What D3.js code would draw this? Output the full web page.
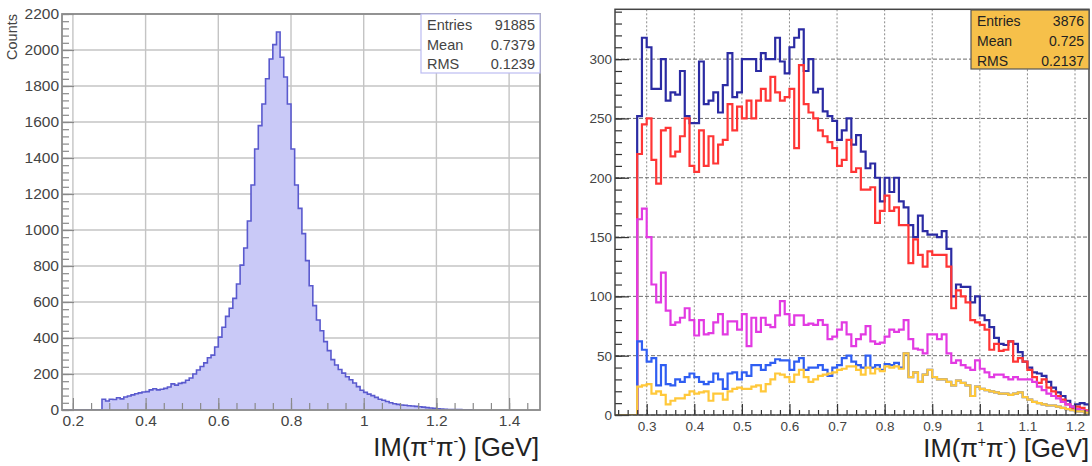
<!DOCTYPE html>
<html><head><meta charset="utf-8">
<script src="https://cdn.jsdelivr.net/npm/d3@7"></script>
<style>body{margin:0;background:#fff}svg{display:block;font-family:"Liberation Sans",Arial,sans-serif}</style>
</head><body><svg id="c" width="1092" height="466"></svg>
<script>
// ---------- data: left panel ----------
const leftBinStart = 0.28, leftBinWidth = 0.01;
const leftCounts = [
  60,50,60,58,68,62,72,78,84,90,
  95,100,102,112,118,112,115,120,128,145,
  138,148,152,165,178,200,222,242,262,290,
  305,350,405,460,520,565,620,700,805,900,
  1050,1250,1450,1580,1700,1840,1950,2030,2100,1960,
  1850,1700,1450,1250,1120,980,830,690,580,500,
  440,380,330,280,250,225,205,185,168,150,
  130,110,98,88,80,70,60,54,47,40,
  35,31,28,26,24,22,20,18,16,13,
  11,9,7,5,4,3,3,2,2,1,1,1
];
const leftXTicks = [0.2,0.4,0.6,0.8,1,1.2,1.4];
const leftYTicks = [0,200,400,600,800,1000,1200,1400,1600,1800,2000,2200];
const leftStats = [["Entries","91885"],["Mean","0.7379"],["RMS","0.1239"]];

// ---------- data: right panel ----------
const rightBinStart = 0.28, rightBinWidth = 0.01;
const totalCounts = [
  252,318,310,275,275,300,265,272,270,290,
  252,246,246,298,262,265,272,255,278,305,
  268,272,300,300,300,290,305,300,300,318,
  298,288,310,318,325,290,300,272,275,256,
  252,248,232,240,250,228,236,222,208,212,
  200,180,200,188,200,180,175,160,150,168,
  155,152,152,150,155,140,100,110,108,108,
  95,100,84,80,74,65,60,59,62,60,
  53,45,40,36,35,33,28,23,19,16,
  12,7,9,10,9
];
const redCounts = [
  220,245,250,215,195,240,242,218,222,235,
  250,210,205,240,210,235,212,228,232,262,
  240,260,250,265,250,265,275,265,285,272,
  265,268,275,225,295,262,255,250,240,235,
  230,225,210,215,232,205,208,190,190,192,
  162,172,185,172,175,160,160,128,148,135,
  125,138,135,135,135,125,90,105,100,95,
  80,78,76,72,55,60,54,55,62,45,
  48,45,38,32,27,30,23,20,16,13,
  9,5,7,6,4
];
const magentaCounts = [
  165,174,150,110,95,120,88,76,78,82,
  90,80,67,80,68,69,78,85,68,79,
  79,72,85,58,82,70,82,76,74,84,
  96,85,76,84,84,76,77,76,80,76,
  64,66,72,78,68,58,64,68,75,62,
  60,61,66,72,70,72,80,64,56,55,
  52,68,68,64,68,52,44,46,42,40,
  38,46,39,36,32,34,34,32,30,32,
  30,30,30,28,24,21,18,16,14,11,
  9,7,5,4,3
];
const blueCounts = [
  62,55,45,48,25,42,26,25,30,28,
  32,35,32,28,26,28,35,30,22,35,
  36,30,36,33,42,42,38,42,44,47,
  46,46,38,45,48,38,40,40,42,38,
  33,40,42,48,50,45,42,40,50,40,
  42,38,43,42,44,40,52,32,36,28,
  34,38,32,30,30,28,25,29,27,25,
  16,24,22,21,20,19,18,18,17,18,
  19,15,13,11,10,9,8,8,7,6,
  5,4,3,3,2
];
const yellowCounts = [
  24,25,26,18,20,17,9,12,14,14,
  17,20,18,19,20,12,18,18,13,20,
  22,23,22,22,24,25,20,26,30,35,
  34,32,28,34,38,32,28,30,33,34,
  35,36,38,39,41,41,38,34,40,35,
  39,37,41,40,41,39,52,32,36,28,
  34,38,32,30,30,28,25,29,27,25,
  16,24,22,21,20,19,18,18,17,18,
  19,15,13,11,10,9,8,8,7,6,
  5,4,3,3,2
];
const rightXTicks = [0.3,0.4,0.5,0.6,0.7,0.8,0.9,1,1.1,1.2];
const rightYTicks = [0,50,100,150,200,250,300];
const rightStats = [["Entries","3876"],["Mean","0.725"],["RMS","0.2137"]];
const rightSeries = [
  {vals: totalCounts,   color: "#2b2ba3"},
  {vals: redCounts,     color: "#ff3535"},
  {vals: magentaCounts, color: "#e23ae2"},
  {vals: blueCounts,    color: "#2f5ef2"},
  {vals: yellowCounts,  color: "#ffc83a"}
];

// ---------- drawing ----------
const svg = d3.select("#c");
const fmt = d => String(+d.toFixed(2));

function stepPoints(x0, start, w, vals){
  const pts = [[x0,0],[start,0]];
  vals.forEach((v,i)=>pts.push([start+i*w, v]));
  pts.push([start+vals.length*w, 0]);
  return pts;
}

function drawTitle(g, xr, yb){
  const t = g.append("text").attr("x", xr).attr("y", yb).attr("text-anchor","end")
    .attr("font-size", 25.5).attr("fill","#222");
  t.append("tspan").text("IM(π");
  t.append("tspan").attr("dy",-10).attr("font-size",14).text("+");
  t.append("tspan").attr("dy",10).text("π");
  t.append("tspan").attr("dy",-10).attr("font-size",14).text("-");
  t.append("tspan").attr("dy",10).text(") [GeV]");
}

function drawStats(g, box, rows, opt){
  g.append("rect").attr("x",box.x).attr("y",box.y).attr("width",box.w).attr("height",box.h)
    .attr("fill",opt.fill).attr("stroke",opt.stroke).attr("stroke-width",1.2);
  rows.forEach((r,i)=>{
    const yy = box.y + opt.first + i*opt.step;
    g.append("text").attr("x",box.x+6).attr("y",yy).attr("font-size",opt.fs).attr("fill",opt.tc).text(r[0]);
    g.append("text").attr("x",box.x+box.w-5).attr("y",yy).attr("text-anchor","end").attr("font-size",opt.fs).attr("fill",opt.tc).text(r[1]);
  });
}

// ===== LEFT PANEL =====
{
  const L = {l:62, r:540, t:14, b:410};
  const x = d3.scaleLinear().domain([0.17, 1.485]).range([L.l, L.r]);
  const y = d3.scaleLinear().domain([0, 2200]).range([L.b, L.t]);
  const g = svg.append("g");
  g.append("defs").append("clipPath").attr("id","clipL").append("rect")
    .attr("x",L.l).attr("y",L.t).attr("width",L.r-L.l).attr("height",L.b-L.t);

  g.append("g").selectAll("line").data(leftXTicks).join("line")
    .attr("x1",d=>x(d)).attr("x2",d=>x(d)).attr("y1",L.t).attr("y2",L.b)
    .attr("stroke","#c4c4c4").attr("stroke-width",1.4);
  g.append("g").selectAll("line").data(leftYTicks).join("line")
    .attr("x1",L.l).attr("x2",L.r).attr("y1",d=>y(d)).attr("y2",d=>y(d))
    .attr("stroke","#c4c4c4").attr("stroke-width",1.4);

  const pts = stepPoints(x.domain()[0], leftBinStart, leftBinWidth, leftCounts);
  const area = d3.area().curve(d3.curveStepAfter).x(d=>x(d[0])).y0(y(0)).y1(d=>y(d[1]));
  const line = d3.line().curve(d3.curveStepAfter).x(d=>x(d[0])).y(d=>y(d[1]));
  g.append("path").attr("clip-path","url(#clipL)").attr("d",area(pts)).attr("fill","#c9c9f7");
  g.append("path").attr("clip-path","url(#clipL)").attr("d",line(pts)).attr("fill","none")
    .attr("stroke","#5a5ace").attr("stroke-width",1.6);

  g.append("g").attr("transform",`translate(0,${L.b})`)
    .call(d3.axisBottom(x).tickValues(leftXTicks).tickFormat(fmt).tickSize(-12).tickPadding(5));
  g.append("g").attr("transform",`translate(0,${L.b})`)
    .call(d3.axisBottom(x).tickValues(d3.range(0.2,1.48,0.05)).tickFormat("").tickSize(-7));
  g.append("g").attr("transform",`translate(${L.l},0)`)
    .call(d3.axisLeft(y).tickValues(leftYTicks).tickFormat(d3.format("d")).tickSize(-12).tickPadding(3));
  g.append("g").attr("transform",`translate(${L.l},0)`)
    .call(d3.axisLeft(y).tickValues(d3.range(0,2201,40)).tickFormat("").tickSize(-7));
  g.selectAll(".domain").remove();
  g.selectAll(".tick line").attr("stroke","#8a8a8a").attr("stroke-width",1.2);
  g.selectAll(".tick text").attr("font-size",15.5).attr("fill","#444").attr("font-family",null);

  g.append("rect").attr("x",L.l).attr("y",L.t).attr("width",L.r-L.l).attr("height",L.b-L.t)
    .attr("fill","none").attr("stroke","#8c8c8c").attr("stroke-width",1.8);

  drawStats(g, {x:421,y:14,w:119,h:59}, leftStats,
    {fill:"#fff", stroke:"#bcbcf2", tc:"#444", fs:14.5, first:16, step:19.5});

  g.append("text").attr("transform","translate(17,14) rotate(-90)").attr("text-anchor","end")
    .attr("font-size",14.5).attr("fill","#444").text("Counts");
  drawTitle(g, 539, 456);
}

// ===== RIGHT PANEL =====
{
  const R = {l:615, r:1089, t:9.3, b:415};
  const x = d3.scaleLinear().domain([0.2334, 1.2294]).range([R.l, R.r]);
  const y = d3.scaleLinear().domain([0, 342]).range([R.b, R.t]);
  const g = svg.append("g");
  g.append("defs").append("clipPath").attr("id","clipR").append("rect")
    .attr("x",R.l).attr("y",R.t).attr("width",R.r-R.l).attr("height",R.b-R.t);

  g.append("g").selectAll("line").data(rightXTicks).join("line")
    .attr("x1",d=>x(d)).attr("x2",d=>x(d)).attr("y1",R.t).attr("y2",R.b)
    .attr("stroke","#8a8a8a").attr("stroke-width",1).attr("stroke-dasharray","2,2");
  g.append("g").selectAll("line").data(rightYTicks).join("line")
    .attr("x1",R.l).attr("x2",R.r).attr("y1",d=>y(d)).attr("y2",d=>y(d))
    .attr("stroke","#6a6a6a").attr("stroke-width",1).attr("stroke-dasharray","4,2");

  const line = d3.line().curve(d3.curveStepAfter).x(d=>x(d[0])).y(d=>y(d[1]));
  rightSeries.forEach(s=>{
    g.append("path").attr("clip-path","url(#clipR)")
      .attr("d", line(stepPoints(x.domain()[0], rightBinStart, rightBinWidth, s.vals)))
      .attr("fill","none").attr("stroke",s.color).attr("stroke-width",2.2);
  });

  g.append("g").attr("transform",`translate(0,${R.b})`)
    .call(d3.axisBottom(x).tickValues(rightXTicks).tickFormat(fmt).tickSize(-11).tickPadding(6));
  g.append("g").attr("transform",`translate(0,${R.b})`)
    .call(d3.axisBottom(x).tickValues(d3.range(0.24,1.225,0.02)).tickFormat("").tickSize(-5));
  g.append("g").attr("transform",`translate(${R.l},0)`)
    .call(d3.axisLeft(y).tickValues(rightYTicks).tickFormat(d3.format("d")).tickSize(-14).tickPadding(3));
  g.append("g").attr("transform",`translate(${R.l},0)`)
    .call(d3.axisLeft(y).tickValues(d3.range(0,341,10)).tickFormat("").tickSize(-7));
  g.selectAll(".domain").remove();
  g.selectAll(".tick line").attr("stroke","#333").attr("stroke-width",1.2);
  g.selectAll(".tick text").attr("font-size",13.5).attr("fill","#444").attr("font-family",null);

  g.append("rect").attr("x",R.l).attr("y",R.t).attr("width",R.r-R.l).attr("height",R.b-R.t)
    .attr("fill","none").attr("stroke","#444").attr("stroke-width",1.5);

  drawStats(g, {x:971,y:10,w:118,h:59}, rightStats,
    {fill:"#f6c04a", stroke:"#555", tc:"#222", fs:14, first:16, step:20});

  drawTitle(g, 1089, 457);
}
</script></body></html>
